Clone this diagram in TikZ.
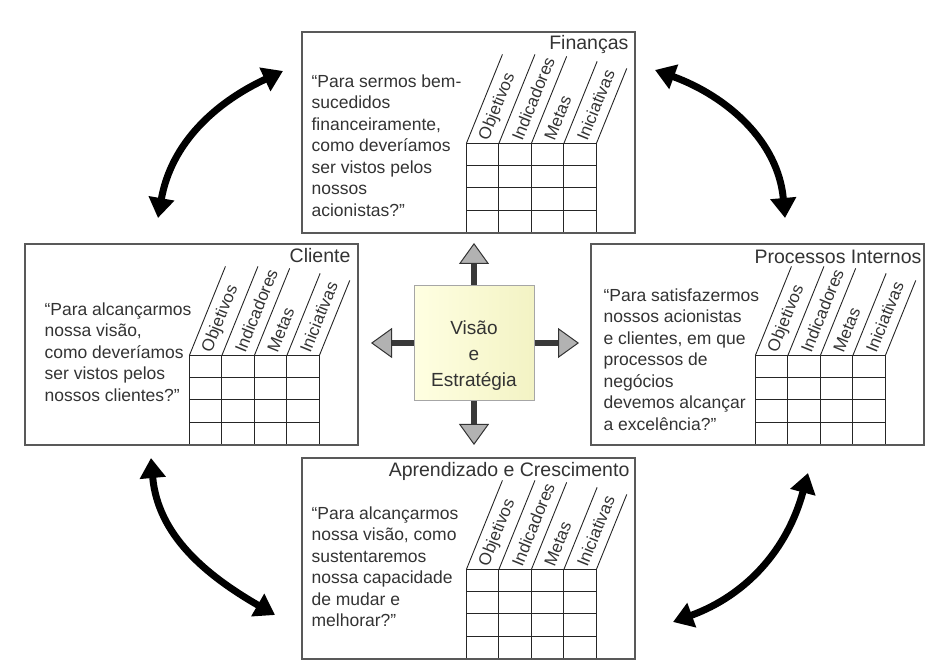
\documentclass[tikz,border=0pt]{standalone}
\usepackage{fontspec}
\setmainfont{Liberation Sans}
\usetikzlibrary{calc,arrows.meta}
\definecolor{cream}{HTML}{FFFFE2}
\definecolor{creamd}{HTML}{F3F3C4}

\begin{document}
\begin{tikzpicture}[x=1pt,y=1pt,
    persp/.style={draw=black!65,line width=1.2pt,minimum width=333pt,minimum height=201pt,inner sep=0pt},
    ttl/.style={anchor=base east,inner sep=0pt,text=black!80,font=\fontsize{19.5}{22}\selectfont},
    quest/.style={anchor=north west,inner sep=0pt,align=left,text=black!80,font=\fontsize{17.5}{21.5}\selectfont},
    colhead/.style={anchor=west,rotate=68,inner sep=0pt,text=black!80,font=\fontsize{17}{19}\selectfont},
    gridln/.style={draw=black!85,line width=0.9pt},
    vis/.style={draw=gray!70,line width=1pt,left color=cream,right color=creamd,minimum width=120pt,minimum height=115pt},
    vistxt/.style={align=center,inner sep=0pt,text=black!80,font=\fontsize{19}{26}\selectfont},
    garrow/.style={line width=6pt,draw=gray!45!black,->,>={Triangle[length=21pt,width=30pt,color=gray!40!black,fill=gray!60,line width=1pt]}},
    barrow/.style={line width=7pt,<->,>={Triangle[length=20pt,width=25pt]}}]

    \useasboundingbox (0,0) rectangle (944,666);

    % caixas das perspectivas
    \node[persp] (fin) at (468.5,533.5) {};
    \node[persp] (cli) at (191.5,321.5) {};
    \node[persp] (pro) at (757.5,321.5) {};
    \node[persp] (apr) at (468.5,107.5) {};

    \node[ttl] (fin-t) at ($(fin.north east)+(-7,-18)$) {Finanças};
    \node[ttl] (cli-t) at ($(cli.north east)+(-8,-19)$) {Cliente};
    \node[ttl] (pro-t) at ($(pro.north east)+(-3,-20)$) {Processos Internos};
    \node[ttl] (apr-t) at ($(apr.north east)+(-6,-19)$) {Aprendizado e Crescimento};

    \node[quest] (fin-q) at ($(fin.north west)+(10,-43)$) {“Para sermos bem-\\sucedidos\\financeiramente,\\como deveríamos\\ser vistos pelos\\nossos\\acionistas?”};
    \node[quest] (cli-q) at ($(cli.north west)+(20,-59)$) {“Para alcançarmos\\nossa visão,\\como deveríamos\\ser vistos pelos\\nossos clientes?”};
    \node[quest] (pro-q) at ($(pro.north west)+(13,-45)$) {“Para satisfazermos\\nossos acionistas\\e clientes, em que\\processos de\\negócios\\devemos alcançar\\a excelência?”};
    \node[quest] (apr-q) at ($(apr.north west)+(10,-49)$) {“Para alcançarmos\\nossa visão, como\\sustentaremos\\nossa capacidade\\de mudar e\\melhorar?”};

    % tabelas
    \foreach \b in {fin,cli,pro,apr} {
        \coordinate (\b-g) at ($(\b.north west)+(165,-112)$);
        \foreach \i in {0,...,4}
            \draw[gridln] ($(\b-g)+(32.5*\i,0)$) -- ++(0,-89);
        \foreach \j in {0,...,3}
            \draw[gridln] ($(\b-g)+(0,-22.25*\j)$) -- ++(130,0);
        \foreach \i/\h in {0/89,1/89,2/87,3/82,4/75}
            \draw[gridln] ($(\b-g)+(32.5*\i,0)$) -- ++(0.405*\h,\h);
        \foreach \i/\t in {0/Objetivos,1/Indicadores,2/Metas,3/Iniciativas}
            \node[colhead] (\b-h\i) at ($(\b-g)+(32.5*\i+16.25,0)+(68:4)$) {\t};
    }

    % centro
    \node[vis] (vis) at (474,323) {};
    \node[vistxt] (vis-t) at (474,310) {Visão\\e\\Estratégia};

    \coordinate (up) at (474,423);
    \coordinate (dn) at (474,221);
    \coordinate (lt) at (371,323);
    \coordinate (rt) at (579,323);
    \draw[garrow] (vis.north) -- (up);
    \draw[garrow] (vis.south) -- (dn);
    \draw[garrow] (vis.west) -- (lt);
    \draw[garrow] (vis.east) -- (rt);

    % setas curvas
    \coordinate (a1) at (158,448);
    \coordinate (a2) at (283,595);
    \coordinate (b1) at (655,596);
    \coordinate (b2) at (785,448);
    \coordinate (c1) at (151,208);
    \coordinate (c2) at (275,51);
    \coordinate (d1) at (808,193);
    \coordinate (d2) at (673,44);

    \draw[barrow] (a1) to[out=80,in=205] (a2);
    \draw[barrow] (b1) to[out=-20,in=95] (b2);
    \draw[barrow] (c1) to[out=-85,in=150] (c2);
    \draw[barrow] (d1) to[out=255,in=20] (d2);
\end{tikzpicture}
\end{document}
